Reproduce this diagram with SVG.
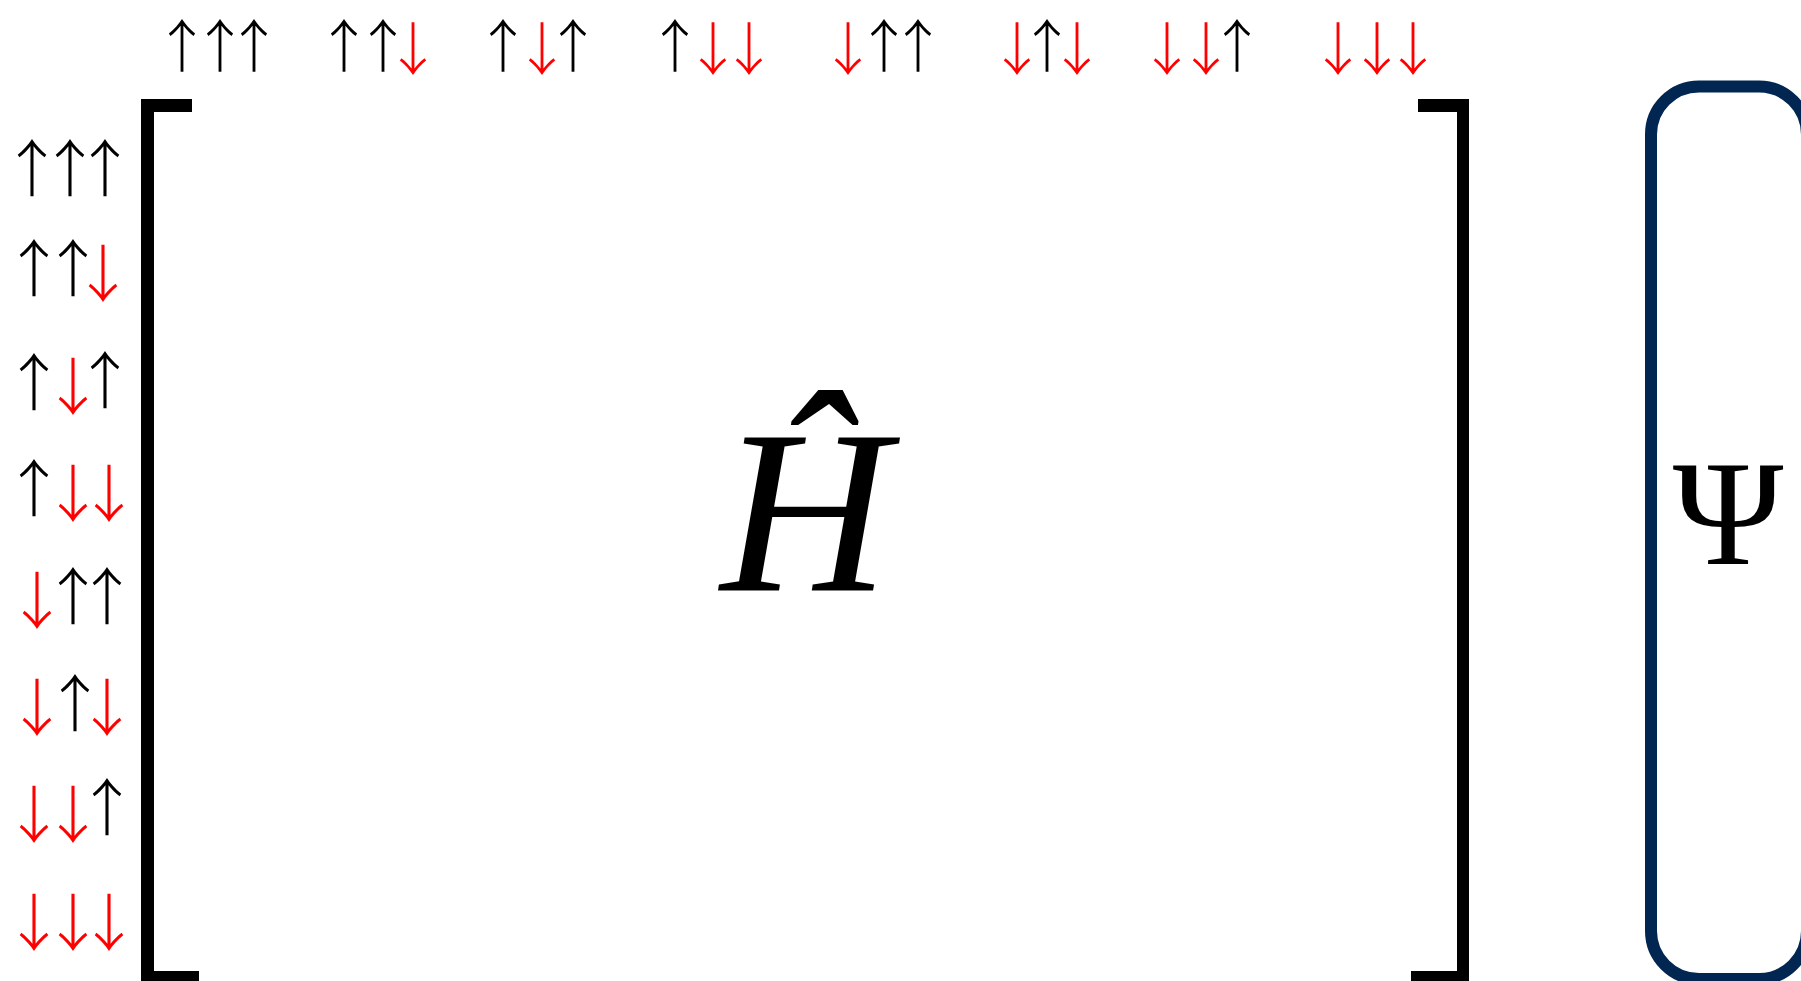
<svg xmlns="http://www.w3.org/2000/svg" width="1801" height="981" viewBox="0 0 1801 981">
<style>
.a{font-family:"Noto Sans CJK SC","DejaVu Sans",sans-serif;font-size:62px;font-weight:300;text-anchor:middle}
.t{font-size:57px}
.k{fill:#000}
.r{fill:#ff0000}
.br{fill:#000}
</style>
<defs>
<linearGradient id="c2g" gradientUnits="userSpaceOnUse" x1="398" x2="399" y1="0" y2="0"><stop offset="0" stop-color="#000"/><stop offset="1" stop-color="#f00"/></linearGradient>
<linearGradient id="c3g" gradientUnits="userSpaceOnUse" x1="522" x2="558" y1="0" y2="0"><stop offset="0" stop-color="#000"/><stop offset="0" stop-color="#f00"/><stop offset="1" stop-color="#f00"/><stop offset="1" stop-color="#000"/></linearGradient>
<linearGradient id="c4g" gradientUnits="userSpaceOnUse" x1="694" x2="695" y1="0" y2="0"><stop offset="0" stop-color="#000"/><stop offset="1" stop-color="#f00"/></linearGradient>
<linearGradient id="c5g" gradientUnits="userSpaceOnUse" x1="866" x2="867" y1="0" y2="0"><stop offset="0" stop-color="#f00"/><stop offset="1" stop-color="#000"/></linearGradient>
<linearGradient id="c6g" gradientUnits="userSpaceOnUse" x1="1032" x2="1062" y1="0" y2="0"><stop offset="0" stop-color="#f00"/><stop offset="0" stop-color="#000"/><stop offset="1" stop-color="#000"/><stop offset="1" stop-color="#f00"/></linearGradient>
<linearGradient id="c7g" gradientUnits="userSpaceOnUse" x1="1221" x2="1222" y1="0" y2="0"><stop offset="0" stop-color="#f00"/><stop offset="1" stop-color="#000"/></linearGradient>
<linearGradient id="r2g" gradientUnits="userSpaceOnUse" x1="88" x2="89" y1="0" y2="0"><stop offset="0" stop-color="#000"/><stop offset="1" stop-color="#f00"/></linearGradient>
<linearGradient id="r3g" gradientUnits="userSpaceOnUse" x1="53" x2="89" y1="0" y2="0"><stop offset="0" stop-color="#000"/><stop offset="0" stop-color="#f00"/><stop offset="1" stop-color="#f00"/><stop offset="1" stop-color="#000"/></linearGradient>
<linearGradient id="r4g" gradientUnits="userSpaceOnUse" x1="53" x2="54" y1="0" y2="0"><stop offset="0" stop-color="#000"/><stop offset="1" stop-color="#f00"/></linearGradient>
<linearGradient id="r5g" gradientUnits="userSpaceOnUse" x1="55" x2="56" y1="0" y2="0"><stop offset="0" stop-color="#f00"/><stop offset="1" stop-color="#000"/></linearGradient>
<linearGradient id="r6g" gradientUnits="userSpaceOnUse" x1="56" x2="91" y1="0" y2="0"><stop offset="0" stop-color="#f00"/><stop offset="0" stop-color="#000"/><stop offset="1" stop-color="#000"/><stop offset="1" stop-color="#f00"/></linearGradient>
<linearGradient id="r7g" gradientUnits="userSpaceOnUse" x1="90" x2="91" y1="0" y2="0"><stop offset="0" stop-color="#f00"/><stop offset="1" stop-color="#000"/></linearGradient>
</defs>
<rect width="1801" height="981" fill="#fff"/>
<g id="top-labels" class="a t">
<text id="c1" class="k" x="182 220 254" y="67 67 67">↑↑↑</text>
<text id="c2" fill="url(#c2g)" x="344 383 413" y="67 67 70">↑↑↓</text>
<text id="c3" fill="url(#c3g)" x="503 542 573" y="67 70 67">↑↓↑</text>
<text id="c4" fill="url(#c4g)" x="675 713 749" y="67 70 70">↑↓↓</text>
<text id="c5" fill="url(#c5g)" x="848 884 918" y="70 67 67">↓↑↑</text>
<text id="c6" fill="url(#c6g)" x="1017 1047 1077" y="70 67 70">↓↑↓</text>
<text id="c7" fill="url(#c7g)" x="1167 1206 1237" y="70 70 67">↓↓↑</text>
<text id="c8" class="r" x="1338 1377 1413" y="70 70 70">↓↓↓</text>
</g>
<g id="left-labels" class="a">
<text id="r1" class="k" x="32 70 105" y="192 192 192">↑↑↑</text>
<text id="r2" fill="url(#r2g)" x="34 73 103" y="292 292 297">↑↑↓</text>
<text id="r3" fill="url(#r3g)" x="34 73 105" y="406 410 404">↑↓↑</text>
<text id="r4" fill="url(#r4g)" x="34 73 109" y="512 517 517">↑↓↓</text>
<text id="r5" fill="url(#r5g)" x="37 73 107" y="624 620 620">↓↑↑</text>
<text id="r6" fill="url(#r6g)" x="37 75 107" y="731 727 731">↓↑↓</text>
<text id="r7" fill="url(#r7g)" x="34 73 107" y="838 838 831">↓↓↑</text>
<text id="r8" class="r" x="34 73 109" y="946 946 946">↓↓↓</text>
</g>
<g id="matrix-H">
<path class="br" d="M141,99 H192 V112 H154 V971 H199 V985 H141 Z"/>
<path class="br" d="M1418,99 H1469 V985 H1411 V971 H1457 V112 H1418 Z"/>
<text x="805" y="591" font-family="Liberation Serif, serif" font-style="italic" font-size="234" text-anchor="middle">Ĥ</text>
</g>
<g id="vector-Psi">
<rect x="1651" y="86.5" width="156" height="892.5" rx="48" ry="48" fill="none" stroke="#012652" stroke-width="12"/>
<text x="1728" y="564" font-family="Liberation Serif, serif" font-size="150" text-anchor="middle">Ψ</text>
</g>
<g id="connectors"/>
</svg>
